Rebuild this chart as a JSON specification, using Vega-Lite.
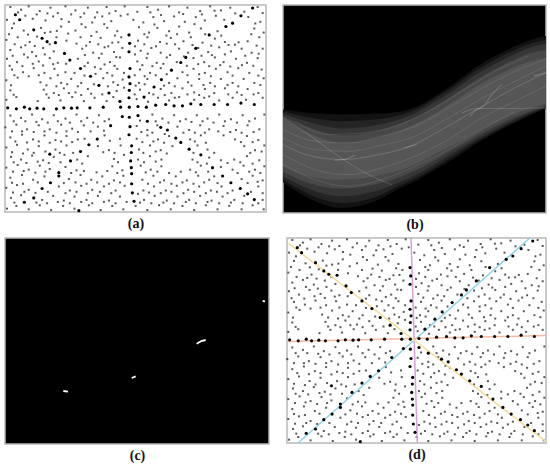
{"$schema":"https://vega.github.io/schema/vega-lite/v6.json","padding":{"left":0,"top":4,"right":0,"bottom":0},"background":"white","spacing":2,
"config":{"view":{"stroke":"#b8b8b8","strokeWidth":1.5},"axis":{"grid":false,"labels":false,"ticks":false,"domain":false,"titleFont":"Liberation Serif","titleFontSize":14,"titleFontWeight":"bold","titleColor":"#111","titlePadding":4}},
"datasets":{
"dark":[{"x":22,"y":322},{"x":48,"y":325},{"x":72,"y":320},{"x":88,"y":325},{"x":110,"y":323},{"x":130,"y":325},{"x":168,"y":325},{"x":190,"y":322},{"x":213,"y":323},{"x":230,"y":322},{"x":268,"y":322},{"x":308,"y":320},{"x":360,"y":320},{"x":386,"y":320},{"x":412,"y":318},{"x":437,"y":320},{"x":465,"y":314},{"x":495,"y":312},{"x":520,"y":316},{"x":545,"y":316},{"x":570,"y":310},{"x":600,"y":312},{"x":640,"y":312},{"x":680,"y":312},{"x":720,"y":308},{"x":760,"y":312},{"x":385,"y":105},{"x":387,"y":130},{"x":385,"y":155},{"x":388,"y":205},{"x":385,"y":230},{"x":388,"y":250},{"x":386,"y":270},{"x":385,"y":292},{"x":386,"y":350},{"x":388,"y":378},{"x":385,"y":402},{"x":393,"y":435},{"x":392,"y":455},{"x":390,"y":480},{"x":392,"y":500},{"x":393,"y":518},{"x":393,"y":548},{"x":395,"y":575},{"x":400,"y":600},{"x":45,"y":45},{"x":58,"y":60},{"x":100,"y":90},{"x":125,"y":115},{"x":140,"y":125},{"x":165,"y":128},{"x":192,"y":160},{"x":208,"y":180},{"x":240,"y":205},{"x":270,"y":228},{"x":295,"y":255},{"x":325,"y":278},{"x":358,"y":303},{"x":412,"y":345},{"x":440,"y":362},{"x":480,"y":380},{"x":500,"y":388},{"x":525,"y":412},{"x":540,"y":425},{"x":565,"y":445},{"x":600,"y":462},{"x":635,"y":500},{"x":665,"y":525},{"x":690,"y":545},{"x":718,"y":562},{"x":740,"y":578},{"x":760,"y":595},{"x":695,"y":70},{"x":675,"y":80},{"x":625,"y":105},{"x":585,"y":145},{"x":555,"y":172},{"x":540,"y":187},{"x":512,"y":210},{"x":482,"y":238},{"x":460,"y":260},{"x":430,"y":290},{"x":365,"y":348},{"x":330,"y":375},{"x":290,"y":415},{"x":265,"y":432},{"x":240,"y":452},{"x":210,"y":480},{"x":175,"y":515},{"x":150,"y":545},{"x":125,"y":562},{"x":100,"y":590},{"x":72,"y":603},{"x":235,"y":628},{"x":175,"y":525},{"x":720,"y":48},{"x":755,"y":25},{"x":148,"y":460}],
"fine":[{"x":30,"y":22},{"x":62,"y":30},{"x":85,"y":20},{"x":118,"y":34},{"x":150,"y":24},{"x":172,"y":40},{"x":195,"y":20},{"x":225,"y":32},{"x":262,"y":24},{"x":290,"y":38},{"x":318,"y":22},{"x":345,"y":34},{"x":372,"y":20},{"x":410,"y":36},{"x":440,"y":22},{"x":472,"y":30},{"x":505,"y":20},{"x":535,"y":38},{"x":560,"y":24},{"x":598,"y":34},{"x":628,"y":20},{"x":660,"y":32},{"x":688,"y":24},{"x":730,"y":36},{"x":770,"y":22},{"x":785,"y":40},
{"x":20,"y":60},{"x":75,"y":48},{"x":135,"y":62},{"x":158,"y":50},{"x":205,"y":66},{"x":240,"y":52},{"x":275,"y":68},{"x":305,"y":50},{"x":332,"y":64},{"x":360,"y":48},{"x":398,"y":60},{"x":428,"y":68},{"x":458,"y":52},{"x":490,"y":64},{"x":520,"y":50},{"x":552,"y":66},{"x":585,"y":52},{"x":612,"y":62},{"x":645,"y":48},{"x":670,"y":60},{"x":742,"y":52},{"x":778,"y":66},
{"x":35,"y":85},{"x":70,"y":92},{"x":122,"y":84},{"x":150,"y":96},{"x":182,"y":80},{"x":225,"y":92},{"x":255,"y":82},{"x":288,"y":96},{"x":320,"y":84},{"x":350,"y":94},{"x":415,"y":82},{"x":445,"y":98},{"x":470,"y":84},{"x":505,"y":94},{"x":535,"y":80},{"x":565,"y":98},{"x":600,"y":86},{"x":650,"y":94},{"x":760,"y":86},{"x":788,"y":98},
{"x":18,"y":120},{"x":52,"y":112},{"x":88,"y":126},{"x":110,"y":110},{"x":168,"y":112},{"x":198,"y":122},{"x":240,"y":112},{"x":268,"y":126},{"x":300,"y":114},{"x":335,"y":128},{"x":362,"y":112},{"x":412,"y":122},{"x":440,"y":112},{"x":478,"y":126},{"x":510,"y":114},{"x":548,"y":124},{"x":570,"y":112},{"x":605,"y":128},{"x":642,"y":116},{"x":672,"y":126},{"x":702,"y":134},{"x":740,"y":124},{"x":775,"y":112},
{"x":30,"y":150},{"x":62,"y":142},{"x":95,"y":156},{"x":128,"y":144},{"x":160,"y":154},{"x":245,"y":146},{"x":278,"y":158},{"x":312,"y":142},{"x":340,"y":156},{"x":365,"y":144},{"x":420,"y":152},{"x":452,"y":144},{"x":480,"y":158},{"x":535,"y":146},{"x":562,"y":158},{"x":592,"y":144},{"x":622,"y":156},{"x":655,"y":142},{"x":690,"y":154},{"x":722,"y":146},{"x":752,"y":158},{"x":785,"y":146},
{"x":20,"y":176},{"x":50,"y":186},{"x":82,"y":172},{"x":115,"y":184},{"x":148,"y":174},{"x":172,"y":188},{"x":232,"y":176},{"x":262,"y":188},{"x":295,"y":174},{"x":328,"y":186},{"x":358,"y":172},{"x":410,"y":184},{"x":438,"y":174},{"x":468,"y":188},{"x":498,"y":172},{"x":528,"y":186},{"x":578,"y":174},{"x":610,"y":186},{"x":642,"y":172},{"x":668,"y":186},{"x":705,"y":176},{"x":738,"y":188},{"x":770,"y":174},
{"x":35,"y":208},{"x":68,"y":216},{"x":100,"y":204},{"x":132,"y":218},{"x":162,"y":206},{"x":195,"y":216},{"x":222,"y":218},{"x":300,"y":206},{"x":320,"y":218},{"x":350,"y":206},{"x":370,"y":218},{"x":418,"y":208},{"x":448,"y":218},{"x":480,"y":204},{"x":545,"y":216},{"x":578,"y":206},{"x":612,"y":218},{"x":645,"y":206},{"x":680,"y":216},{"x":712,"y":204},{"x":745,"y":218},{"x":782,"y":208},
{"x":18,"y":240},{"x":52,"y":232},{"x":120,"y":246},{"x":150,"y":234},{"x":182,"y":248},{"x":212,"y":236},{"x":242,"y":248},{"x":308,"y":234},{"x":338,"y":246},{"x":366,"y":238},{"x":415,"y":248},{"x":440,"y":236},{"x":505,"y":248},{"x":530,"y":234},{"x":562,"y":246},{"x":595,"y":236},{"x":628,"y":248},{"x":660,"y":236},{"x":695,"y":248},{"x":728,"y":236},{"x":760,"y":248},{"x":788,"y":234},
{"x":30,"y":270},{"x":130,"y":268},{"x":160,"y":278},{"x":190,"y":264},{"x":225,"y":276},{"x":262,"y":266},{"x":348,"y":272},{"x":370,"y":262},{"x":418,"y":268},{"x":445,"y":278},{"x":480,"y":266},{"x":512,"y":278},{"x":545,"y":264},{"x":580,"y":276},{"x":612,"y":266},{"x":640,"y":278},{"x":672,"y":264},{"x":708,"y":276},{"x":740,"y":266},{"x":772,"y":278},
{"x":18,"y":298},{"x":48,"y":290},{"x":112,"y":302},{"x":145,"y":292},{"x":180,"y":300},{"x":215,"y":290},{"x":250,"y":302},{"x":282,"y":292},{"x":318,"y":302},{"x":408,"y":296},{"x":442,"y":304},{"x":472,"y":292},{"x":505,"y":300},{"x":535,"y":290},{"x":580,"y":298},{"x":610,"y":292},{"x":655,"y":300},{"x":695,"y":292},{"x":735,"y":298},{"x":785,"y":292},
{"x":30,"y":345},{"x":62,"y":352},{"x":95,"y":342},{"x":125,"y":356},{"x":160,"y":344},{"x":195,"y":354},{"x":228,"y":342},{"x":260,"y":352},{"x":295,"y":344},{"x":325,"y":356},{"x":455,"y":342},{"x":485,"y":354},{"x":520,"y":344},{"x":555,"y":356},{"x":588,"y":344},{"x":620,"y":354},{"x":655,"y":342},{"x":690,"y":356},{"x":725,"y":344},{"x":762,"y":354},{"x":790,"y":342},
{"x":15,"y":380},{"x":48,"y":372},{"x":80,"y":386},{"x":115,"y":374},{"x":148,"y":386},{"x":182,"y":372},{"x":215,"y":384},{"x":250,"y":374},{"x":292,"y":378},{"x":408,"y":376},{"x":440,"y":388},{"x":470,"y":374},{"x":530,"y":378},{"x":565,"y":388},{"x":598,"y":374},{"x":625,"y":386},{"x":668,"y":376},{"x":705,"y":388},{"x":740,"y":374},{"x":775,"y":386},
{"x":30,"y":410},{"x":65,"y":402},{"x":98,"y":416},{"x":132,"y":404},{"x":165,"y":418},{"x":198,"y":406},{"x":232,"y":416},{"x":312,"y":404},{"x":408,"y":414},{"x":440,"y":404},{"x":472,"y":416},{"x":505,"y":406},{"x":568,"y":416},{"x":600,"y":404},{"x":668,"y":404},{"x":702,"y":416},{"x":738,"y":406},{"x":772,"y":418},
{"x":18,"y":440},{"x":50,"y":432},{"x":82,"y":446},{"x":115,"y":436},{"x":165,"y":446},{"x":198,"y":434},{"x":292,"y":436},{"x":325,"y":448},{"x":360,"y":434},{"x":415,"y":446},{"x":448,"y":434},{"x":480,"y":448},{"x":515,"y":436},{"x":590,"y":434},{"x":620,"y":446},{"x":730,"y":436},{"x":762,"y":448},{"x":790,"y":434},
{"x":32,"y":468},{"x":62,"y":476},{"x":95,"y":464},{"x":128,"y":478},{"x":160,"y":468},{"x":192,"y":462},{"x":230,"y":476},{"x":262,"y":466},{"x":340,"y":474},{"x":370,"y":462},{"x":412,"y":476},{"x":448,"y":466},{"x":482,"y":476},{"x":575,"y":476},{"x":625,"y":470},{"x":660,"y":478},{"x":700,"y":476},{"x":738,"y":466},{"x":775,"y":478},
{"x":18,"y":500},{"x":52,"y":492},{"x":85,"y":506},{"x":118,"y":494},{"x":148,"y":504},{"x":195,"y":498},{"x":228,"y":508},{"x":335,"y":496},{"x":365,"y":508},{"x":420,"y":494},{"x":450,"y":506},{"x":482,"y":496},{"x":568,"y":506},{"x":600,"y":494},{"x":660,"y":498},{"x":695,"y":506},{"x":728,"y":494},{"x":762,"y":506},{"x":790,"y":496},
{"x":30,"y":530},{"x":65,"y":522},{"x":98,"y":536},{"x":132,"y":526},{"x":205,"y":534},{"x":240,"y":522},{"x":272,"y":536},{"x":305,"y":526},{"x":340,"y":538},{"x":368,"y":524},{"x":425,"y":536},{"x":458,"y":524},{"x":490,"y":538},{"x":525,"y":526},{"x":558,"y":538},{"x":592,"y":524},{"x":625,"y":536},{"x":640,"y":526},{"x":722,"y":534},{"x":755,"y":524},{"x":785,"y":538},
{"x":18,"y":560},{"x":50,"y":552},{"x":85,"y":566},{"x":175,"y":556},{"x":208,"y":568},{"x":242,"y":554},{"x":275,"y":566},{"x":310,"y":556},{"x":345,"y":568},{"x":372,"y":554},{"x":428,"y":568},{"x":460,"y":556},{"x":495,"y":568},{"x":528,"y":554},{"x":562,"y":566},{"x":595,"y":556},{"x":630,"y":568},{"x":662,"y":556},{"x":695,"y":568},{"x":772,"y":556},
{"x":32,"y":590},{"x":62,"y":582},{"x":125,"y":596},{"x":158,"y":584},{"x":190,"y":598},{"x":222,"y":586},{"x":258,"y":596},{"x":292,"y":584},{"x":325,"y":598},{"x":358,"y":586},{"x":430,"y":596},{"x":462,"y":584},{"x":498,"y":598},{"x":530,"y":586},{"x":565,"y":596},{"x":598,"y":584},{"x":632,"y":598},{"x":665,"y":586},{"x":700,"y":596},{"x":730,"y":584},{"x":785,"y":596},
{"x":20,"y":622},{"x":48,"y":614},{"x":85,"y":624},{"x":118,"y":612},{"x":152,"y":626},{"x":188,"y":614},{"x":222,"y":622},{"x":265,"y":612},{"x":300,"y":626},{"x":335,"y":614},{"x":368,"y":624},{"x":405,"y":614},{"x":440,"y":626},{"x":475,"y":612},{"x":510,"y":624},{"x":545,"y":614},{"x":580,"y":626},{"x":615,"y":612},{"x":650,"y":624},{"x":685,"y":614},{"x":722,"y":624},{"x":755,"y":612},{"x":788,"y":624},
{"x":41,"y":71},{"x":53,"y":38},{"x":97,"y":57},{"x":109,"y":44},{"x":141,"y":41},{"x":183,"y":58},{"x":212,"y":44},{"x":251,"y":41},{"x":283,"y":53},{"x":326,"y":41},{"x":381,"y":44},{"x":449,"y":38},{"x":481,"y":46},{"x":547,"y":43},{"x":603,"y":44},{"x":641,"y":33},{"x":703,"y":41},{"x":763,"y":71},
{"x":26,"y":103},{"x":83,"y":104},{"x":133,"y":99},{"x":169,"y":93},{"x":203,"y":101},{"x":243,"y":73},{"x":272,"y":108},{"x":311,"y":73},{"x":343,"y":107},{"x":431,"y":103},{"x":461,"y":74},{"x":497,"y":107},{"x":529,"y":103},{"x":581,"y":73},{"x":613,"y":103},{"x":661,"y":107},{"x":751,"y":103},
{"x":43,"y":133},{"x":75,"y":136},{"x":103,"y":138},{"x":148,"y":133},{"x":228,"y":131},{"x":257,"y":137},{"x":293,"y":133},{"x":323,"y":139},{"x":353,"y":127},{"x":403,"y":139},{"x":431,"y":133},{"x":466,"y":139},{"x":498,"y":131},{"x":523,"y":133},{"x":575,"y":135},{"x":631,"y":137},{"x":683,"y":135},{"x":713,"y":127},{"x":767,"y":137},
{"x":37,"y":167},{"x":71,"y":163},{"x":107,"y":168},{"x":133,"y":163},{"x":253,"y":165},{"x":303,"y":161},{"x":347,"y":171},{"x":403,"y":163},{"x":441,"y":161},{"x":508,"y":165},{"x":549,"y":169},{"x":602,"y":167},{"x":633,"y":165},{"x":672,"y":163},{"x":733,"y":167},{"x":773,"y":161},
{"x":28,"y":197},{"x":66,"y":198},{"x":97,"y":191},{"x":128,"y":196},{"x":158,"y":192},{"x":197,"y":191},{"x":252,"y":198},{"x":283,"y":201},{"x":312,"y":193},{"x":342,"y":197},{"x":425,"y":195},{"x":455,"y":198},{"x":488,"y":191},{"x":558,"y":197},{"x":592,"y":192},{"x":625,"y":198},{"x":658,"y":195},{"x":688,"y":199},{"x":723,"y":195},{"x":757,"y":197},
{"x":42,"y":225},{"x":85,"y":228},{"x":115,"y":225},{"x":172,"y":225},{"x":252,"y":226},{"x":285,"y":221},{"x":335,"y":226},{"x":402,"y":225},{"x":432,"y":228},{"x":465,"y":225},{"x":498,"y":222},{"x":560,"y":225},{"x":595,"y":222},{"x":630,"y":228},{"x":695,"y":226},{"x":772,"y":226},
{"x":32,"y":255},{"x":138,"y":255},{"x":168,"y":258},{"x":200,"y":252},{"x":232,"y":258},{"x":280,"y":252},{"x":322,"y":258},{"x":352,"y":254},{"x":405,"y":256},{"x":432,"y":252},{"x":490,"y":256},{"x":522,"y":258},{"x":572,"y":256},{"x":608,"y":254},{"x":642,"y":258},{"x":680,"y":254},{"x":712,"y":258},{"x":778,"y":254},
{"x":40,"y":283},{"x":138,"y":282},{"x":175,"y":284},{"x":205,"y":278},{"x":242,"y":284},{"x":272,"y":280},{"x":305,"y":282},{"x":338,"y":290},{"x":402,"y":282},{"x":458,"y":282},{"x":492,"y":284},{"x":522,"y":292},{"x":560,"y":282},{"x":595,"y":284},{"x":625,"y":288},{"x":682,"y":282},{"x":722,"y":284},{"x":758,"y":282},
{"x":40,"y":362},{"x":75,"y":362},{"x":108,"y":364},{"x":142,"y":366},{"x":172,"y":362},{"x":208,"y":366},{"x":242,"y":362},{"x":278,"y":366},{"x":312,"y":362},{"x":418,"y":360},{"x":465,"y":362},{"x":503,"y":366},{"x":538,"y":362},{"x":572,"y":364},{"x":605,"y":362},{"x":638,"y":366},{"x":672,"y":362},{"x":708,"y":366},{"x":745,"y":362},
{"x":35,"y":392},{"x":65,"y":392},{"x":100,"y":394},{"x":132,"y":392},{"x":168,"y":396},{"x":198,"y":392},{"x":232,"y":394},{"x":270,"y":392},{"x":310,"y":390},{"x":422,"y":394},{"x":455,"y":396},{"x":492,"y":400},{"x":548,"y":396},{"x":582,"y":396},{"x":612,"y":396},{"x":652,"y":392},{"x":688,"y":394},{"x":722,"y":396},{"x":758,"y":394},
{"x":45,"y":422},{"x":80,"y":425},{"x":115,"y":422},{"x":148,"y":426},{"x":182,"y":422},{"x":215,"y":424},{"x":252,"y":414},{"x":328,"y":420},{"x":358,"y":414},{"x":425,"y":424},{"x":458,"y":422},{"x":490,"y":426},{"x":582,"y":422},{"x":615,"y":426},{"x":720,"y":424},{"x":755,"y":424},
{"x":35,"y":454},{"x":68,"y":458},{"x":100,"y":456},{"x":135,"y":452},{"x":178,"y":456},{"x":218,"y":456},{"x":308,"y":454},{"x":342,"y":456},{"x":428,"y":456},{"x":465,"y":452},{"x":498,"y":458},{"x":578,"y":456},{"x":640,"y":456},{"x":748,"y":456},{"x":782,"y":452},
{"x":40,"y":484},{"x":78,"y":486},{"x":112,"y":482},{"x":145,"y":486},{"x":180,"y":484},{"x":245,"y":488},{"x":352,"y":484},{"x":430,"y":484},{"x":465,"y":482},{"x":590,"y":484},{"x":618,"y":488},{"x":680,"y":486},{"x":718,"y":484},{"x":755,"y":488},
{"x":38,"y":512},{"x":70,"y":510},{"x":105,"y":515},{"x":135,"y":512},{"x":212,"y":516},{"x":250,"y":510},{"x":288,"y":514},{"x":320,"y":510},{"x":350,"y":516},{"x":435,"y":514},{"x":470,"y":512},{"x":505,"y":516},{"x":540,"y":512},{"x":585,"y":514},{"x":622,"y":512},{"x":710,"y":516},{"x":745,"y":512},{"x":778,"y":516},
{"x":35,"y":545},{"x":68,"y":548},{"x":112,"y":544},{"x":190,"y":546},{"x":225,"y":544},{"x":258,"y":548},{"x":290,"y":544},{"x":325,"y":548},{"x":358,"y":544},{"x":442,"y":548},{"x":478,"y":544},{"x":512,"y":548},{"x":545,"y":544},{"x":578,"y":548},{"x":610,"y":544},{"x":650,"y":546},{"x":740,"y":546},{"x":770,"y":542},
{"x":38,"y":574},{"x":72,"y":572},{"x":105,"y":575},{"x":142,"y":572},{"x":195,"y":576},{"x":228,"y":572},{"x":262,"y":576},{"x":298,"y":572},{"x":332,"y":576},{"x":412,"y":578},{"x":445,"y":574},{"x":480,"y":576},{"x":512,"y":572},{"x":548,"y":576},{"x":580,"y":572},{"x":615,"y":576},{"x":648,"y":572},{"x":680,"y":576},{"x":750,"y":572},{"x":785,"y":576},
{"x":42,"y":604},{"x":108,"y":604},{"x":140,"y":606},{"x":172,"y":602},{"x":208,"y":606},{"x":242,"y":602},{"x":275,"y":606},{"x":310,"y":602},{"x":345,"y":606},{"x":378,"y":602},{"x":418,"y":604},{"x":452,"y":606},{"x":488,"y":604},{"x":520,"y":606},{"x":555,"y":602},{"x":585,"y":606},{"x":620,"y":602},{"x":655,"y":606},{"x":690,"y":604},{"x":725,"y":606},{"x":772,"y":606}]
},
"vconcat":[
{"hconcat":[
{"width":261,"height":207,"layer":[
{"data":{"name":"fine"},"mark":{"type":"square","size":4,"opacity":0.75,"color":"#222"},"encoding":{"x":{"field":"x","type":"quantitative","scale":{"domain":[14,795],"nice":false,"zero":false},"axis":{"title":"(a)"}},"y":{"field":"y","type":"quantitative","scale":{"domain":[632,16],"nice":false,"zero":false},"axis":{"title":null,"minExtent":4,"maxExtent":4}}}},
{"data":{"name":"dark"},"mark":{"type":"circle","size":10,"opacity":1,"color":"#000"},"encoding":{"x":{"field":"x","type":"quantitative"},"y":{"field":"y","type":"quantitative"}}}]},
{"width":263,"height":208,"view":{"fill":"#000"},"layer":[
{"data":{"values":[
{"x":24,"y0":325,"y1":543,"b":"1"},{"x":100,"y0":335,"y1":590,"b":"1"},{"x":200,"y0":340,"y1":620,"b":"1"},{"x":300,"y0":338,"y1":600,"b":"1"},{"x":380,"y0":330,"y1":557,"b":"1"},{"x":420,"y0":318,"y1":540,"b":"1"},{"x":480,"y0":285,"y1":505,"b":"1"},{"x":540,"y0":245,"y1":470,"b":"1"},{"x":600,"y0":200,"y1":430,"b":"1"},{"x":660,"y0":165,"y1":395,"b":"1"},{"x":720,"y0":135,"y1":365,"b":"1"},{"x":770,"y0":115,"y1":340,"b":"1"},{"x":812,"y0":105,"y1":322,"b":"1"},
{"x":24,"y0":330,"y1":535,"b":"2"},{"x":100,"y0":348,"y1":578,"b":"2"},{"x":200,"y0":360,"y1":605,"b":"2"},{"x":300,"y0":355,"y1":588,"b":"2"},{"x":380,"y0":340,"y1":550,"b":"2"},{"x":420,"y0":326,"y1":532,"b":"2"},{"x":480,"y0":292,"y1":498,"b":"2"},{"x":540,"y0":254,"y1":462,"b":"2"},{"x":600,"y0":210,"y1":424,"b":"2"},{"x":660,"y0":175,"y1":390,"b":"2"},{"x":720,"y0":146,"y1":360,"b":"2"},{"x":770,"y0":126,"y1":336,"b":"2"},{"x":812,"y0":116,"y1":320,"b":"2"},
{"x":24,"y0":337,"y1":525,"b":"3"},{"x":100,"y0":362,"y1":562,"b":"3"},{"x":200,"y0":382,"y1":585,"b":"3"},{"x":300,"y0":372,"y1":570,"b":"3"},{"x":380,"y0":352,"y1":540,"b":"3"},{"x":420,"y0":336,"y1":522,"b":"3"},{"x":480,"y0":302,"y1":488,"b":"3"},{"x":540,"y0":264,"y1":452,"b":"3"},{"x":600,"y0":222,"y1":416,"b":"3"},{"x":660,"y0":188,"y1":384,"b":"3"},{"x":720,"y0":158,"y1":354,"b":"3"},{"x":770,"y0":138,"y1":332,"b":"3"},{"x":812,"y0":128,"y1":318,"b":"3"},
{"x":24,"y0":345,"y1":512,"b":"4"},{"x":100,"y0":378,"y1":545,"b":"4"},{"x":200,"y0":402,"y1":562,"b":"4"},{"x":300,"y0":390,"y1":550,"b":"4"},{"x":380,"y0":366,"y1":525,"b":"4"},{"x":420,"y0":350,"y1":508,"b":"4"},{"x":480,"y0":316,"y1":476,"b":"4"},{"x":540,"y0":278,"y1":442,"b":"4"},{"x":600,"y0":238,"y1":408,"b":"4"},{"x":660,"y0":204,"y1":376,"b":"4"},{"x":720,"y0":174,"y1":348,"b":"4"},{"x":770,"y0":155,"y1":328,"b":"4"},{"x":812,"y0":146,"y1":314,"b":"4"},
{"x":24,"y0":355,"y1":495,"b":"5"},{"x":100,"y0":395,"y1":525,"b":"5"},{"x":200,"y0":425,"y1":535,"b":"5"},{"x":300,"y0":412,"y1":525,"b":"5"},{"x":380,"y0":385,"y1":505,"b":"5"},{"x":420,"y0":368,"y1":490,"b":"5"},{"x":480,"y0":336,"y1":458,"b":"5"},{"x":540,"y0":298,"y1":428,"b":"5"},{"x":600,"y0":258,"y1":396,"b":"5"},{"x":660,"y0":226,"y1":364,"b":"5"},{"x":720,"y0":198,"y1":338,"b":"5"},{"x":770,"y0":180,"y1":320,"b":"5"},{"x":812,"y0":170,"y1":308,"b":"5"}]},
"mark":{"type":"area","interpolate":"monotone"},"encoding":{"x":{"field":"x","type":"quantitative","scale":{"domain":[24,812],"nice":false,"zero":false},"axis":{"title":"(b)"}},"y":{"field":"y0","type":"quantitative","scale":{"domain":[635,12],"nice":false,"zero":false},"axis":null},"y2":{"field":"y1"},"color":{"field":"b","type":"nominal","legend":null,"scale":{"domain":["1","2","3","4","5"],"range":["#121212","#242424","#363636","#484848","#565656"]}}}},
{"data":{"values":[
{"c":"t1","w":"dim","x":24,"y":385},{"c":"t1","w":"dim","x":120,"y":420},{"c":"t1","w":"dim","x":220,"y":425},{"c":"t1","w":"dim","x":320,"y":405},{"c":"t1","w":"dim","x":420,"y":375},{"c":"t1","w":"dim","x":520,"y":320},{"c":"t1","w":"dim","x":620,"y":262},{"c":"t1","w":"dim","x":720,"y":210},{"c":"t1","w":"dim","x":812,"y":175},
{"c":"t2","w":"dim","x":24,"y":460},{"c":"t2","w":"dim","x":120,"y":505},{"c":"t2","w":"dim","x":220,"y":520},{"c":"t2","w":"dim","x":320,"y":500},{"c":"t2","w":"dim","x":420,"y":465},{"c":"t2","w":"dim","x":520,"y":415},{"c":"t2","w":"dim","x":620,"y":350},{"c":"t2","w":"dim","x":720,"y":300},{"c":"t2","w":"dim","x":812,"y":255},
{"c":"t3","w":"dim","x":24,"y":490},{"c":"t3","w":"dim","x":120,"y":535},{"c":"t3","w":"dim","x":220,"y":555},{"c":"t3","w":"dim","x":320,"y":535},{"c":"t3","w":"dim","x":420,"y":495},{"c":"t3","w":"dim","x":520,"y":445},{"c":"t3","w":"dim","x":620,"y":385},{"c":"t3","w":"dim","x":720,"y":330},
{"c":"t4","w":"dim","x":24,"y":410},{"c":"t4","w":"dim","x":120,"y":445},{"c":"t4","w":"dim","x":220,"y":450},{"c":"t4","w":"dim","x":320,"y":432},{"c":"t4","w":"dim","x":420,"y":405},{"c":"t4","w":"dim","x":520,"y":350},{"c":"t4","w":"dim","x":620,"y":292},{"c":"t4","w":"dim","x":720,"y":240},{"c":"t4","w":"dim","x":812,"y":195},
{"c":"t5","w":"dim","x":60,"y":360},{"c":"t5","w":"dim","x":160,"y":400},{"c":"t5","w":"dim","x":260,"y":395},{"c":"t5","w":"dim","x":360,"y":375},{"c":"t5","w":"dim","x":460,"y":330},{"c":"t5","w":"dim","x":560,"y":270},{"c":"t5","w":"dim","x":660,"y":210},{"c":"t5","w":"dim","x":760,"y":165},
{"c":"s1","w":"mid","x":24,"y":430},{"c":"s1","w":"mid","x":110,"y":465},{"c":"s1","w":"mid","x":205,"y":475},{"c":"s1","w":"mid","x":300,"y":462},{"c":"s1","w":"mid","x":405,"y":435},{"c":"s1","w":"mid","x":500,"y":385},{"c":"s1","w":"mid","x":610,"y":322},{"c":"s1","w":"mid","x":700,"y":270},{"c":"s1","w":"mid","x":812,"y":215},
{"c":"s2","w":"mid","x":24,"y":350},{"c":"s2","w":"mid","x":100,"y":400},{"c":"s2","w":"mid","x":205,"y":475},{"c":"s2","w":"mid","x":290,"y":525},{"c":"s2","w":"mid","x":350,"y":550},
{"c":"s6","w":"mid","x":560,"y":335},{"c":"s6","w":"mid","x":610,"y":322},{"c":"s6","w":"mid","x":700,"y":322},{"c":"s6","w":"mid","x":812,"y":320},
{"c":"s3","w":"bright","x":178,"y":477},{"c":"s3","w":"bright","x":205,"y":475},{"c":"s3","w":"bright","x":240,"y":462},
{"c":"s4","w":"bright","x":388,"y":440},{"c":"s4","w":"bright","x":405,"y":435},{"c":"s4","w":"bright","x":425,"y":430},
{"c":"s5","w":"bright","x":585,"y":345},{"c":"s5","w":"bright","x":600,"y":328},{"c":"s5","w":"bright","x":625,"y":315},{"c":"s5","w":"bright","x":650,"y":280},{"c":"s5","w":"bright","x":680,"y":250},
{"c":"s7","w":"bright","x":775,"y":225},{"c":"s7","w":"bright","x":812,"y":215}]},
"mark":{"type":"line","interpolate":"monotone","strokeWidth":1,"color":"#fff"},"encoding":{"x":{"field":"x","type":"quantitative"},"y":{"field":"y","type":"quantitative"},"detail":{"field":"c"},"opacity":{"field":"w","type":"nominal","legend":null,"scale":{"domain":["dim","mid","bright"],"range":[0.1,0.22,0.75]}}}}
]}
],"spacing":13},
{"hconcat":[
{"width":264,"height":206,"view":{"fill":"#000"},"data":{"values":[{"s":"a","x":183,"y":477},{"s":"a","x":197,"y":479},{"s":"b","x":388,"y":438},{"s":"b","x":400,"y":433},{"s":"c","x":583,"y":335},{"s":"c","x":597,"y":327},{"s":"c","x":610,"y":324},{"s":"d","x":781,"y":207},{"s":"d","x":788,"y":208}]},"mark":{"type":"line","color":"#fff","strokeWidth":1.8},"encoding":{"x":{"field":"x","type":"quantitative","scale":{"domain":[8,800],"nice":false,"zero":false},"axis":{"title":"(c)"}},"y":{"field":"y","type":"quantitative","scale":{"domain":[636,18],"nice":false,"zero":false},"axis":null},"detail":{"field":"s"}}},
{"width":259,"height":205,"layer":[
{"data":{"name":"fine"},"mark":{"type":"square","size":4,"opacity":0.75,"color":"#222"},"encoding":{"x":{"field":"x","type":"quantitative","scale":{"domain":[14,795],"nice":false,"zero":false},"axis":{"title":"(d)"}},"y":{"field":"y","type":"quantitative","scale":{"domain":[632,16],"nice":false,"zero":false},"axis":null}}},
{"data":{"values":[{"x":388,"y":16},{"x":407,"y":632}]},"mark":{"type":"line","stroke":"#d9a0dc","strokeWidth":1.5},"encoding":{"x":{"field":"x","type":"quantitative"},"y":{"field":"y","type":"quantitative"}}},
{"data":{"values":[{"x":47,"y":632},{"x":746,"y":16}]},"mark":{"type":"line","stroke":"#8fd3e8","strokeWidth":1.5},"encoding":{"x":{"field":"x","type":"quantitative"},"y":{"field":"y","type":"quantitative"}}},
{"data":{"values":[{"x":14,"y":327},{"x":795,"y":309}]},"mark":{"type":"line","stroke":"#f9b9a0","strokeWidth":1.5},"encoding":{"x":{"field":"x","type":"quantitative"},"y":{"field":"y","type":"quantitative"}}},
{"data":{"values":[{"x":17,"y":31},{"x":795,"y":628}]},"mark":{"type":"line","stroke":"#f3dc9c","strokeWidth":1.5},"encoding":{"x":{"field":"x","type":"quantitative"},"y":{"field":"y","type":"quantitative"}}},
{"data":{"name":"dark"},"mark":{"type":"circle","size":10,"opacity":1,"color":"#000"},"encoding":{"x":{"field":"x","type":"quantitative"},"y":{"field":"y","type":"quantitative"}}}
]}
],"spacing":13}
]}
